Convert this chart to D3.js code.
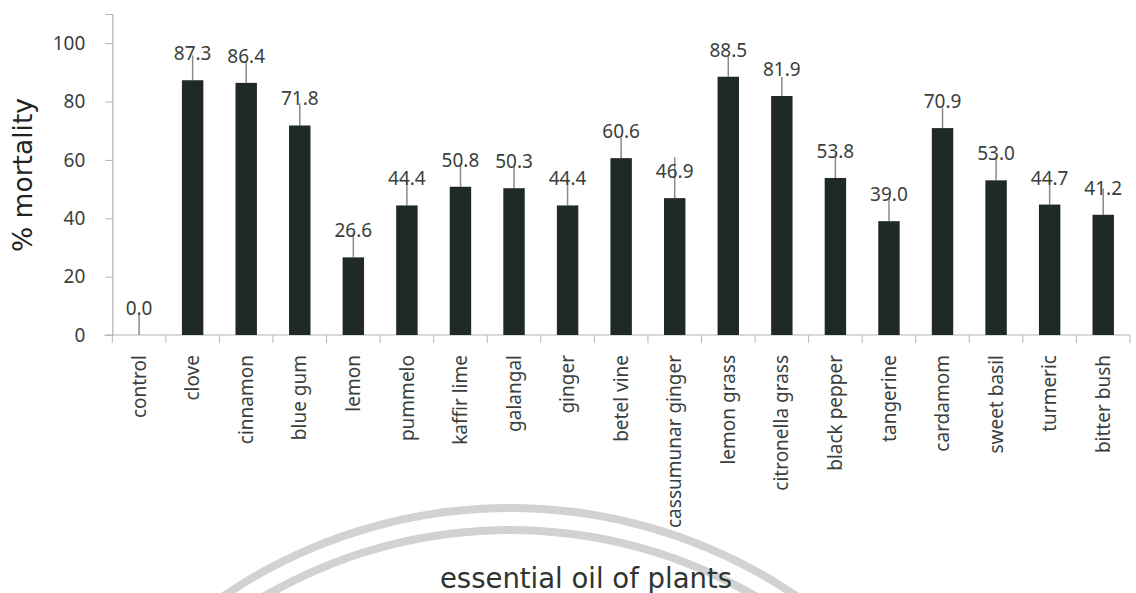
<!DOCTYPE html>
<html>
<head>
<meta charset="utf-8">
<script src="https://cdn.jsdelivr.net/npm/d3@7"></script>
<style>
  html, body { margin: 0; padding: 0; background: #ffffff; }
  svg { display: block; }
  text { font-family: "Noto Sans", "Open Sans", sans-serif; }
</style>
</head>
<body>
<svg id="chart" width="1136" height="593"></svg>
<script>
const categories = ["control","clove","cinnamon","blue gum","lemon","pummelo","kaffir lime","galangal","ginger","betel vine","cassumunar ginger","lemon grass","citronella grass","black pepper","tangerine","cardamom","sweet basil","turmeric","bitter bush"];
const mortality = [0.0,87.3,86.4,71.8,26.6,44.4,50.8,50.3,44.4,60.6,46.9,88.5,81.9,53.8,39.0,70.9,53.0,44.7,41.2];
const errorUp = [7,8.5,7,7.5,8.5,8,8,7.5,9,7,14,7,6.5,8.5,8,7,8,8.5,9];
const yTicks = [0,20,40,60,80,100];
const yTitle = "% mortality";
const xTitle = "essential oil of plants";

(function () {
const svg = d3.select("#chart");
const mLeft = 112.3, mRight = 1130, mTop = 14, mBottom = 335;

// faint watermark arcs (seal) at the bottom
const wm = svg.append("g");
const arcGen = d3.arc();
[[506, 514], [484, 492]].forEach(([ri, ro]) => {
  wm.append("path")
    .attr("transform", "translate(510,1018)")
    .attr("d", arcGen({innerRadius: ri, outerRadius: ro, startAngle: -Math.PI/3.2, endAngle: Math.PI/3.2}))
    .attr("fill", "#d2d2d2");
});

const x = d3.scaleBand().domain(categories).range([mLeft, mRight]).paddingInner(0.6).paddingOuter(0.3);
const y = d3.scaleLinear().domain([0, 110]).range([mBottom, mTop]);

const axisColor = "#b4b4b4";
const textColor = "#3a3f3d";

// y axis
const yAxis = svg.append("g").attr("transform", `translate(${mLeft},0)`)
  .call(d3.axisLeft(y).tickValues(yTicks).tickSize(7).tickPadding(20).tickFormat(d3.format("d")));
yAxis.select(".domain").attr("stroke", axisColor).attr("stroke-width", 1.2);
yAxis.selectAll(".tick line").attr("stroke", axisColor);
yAxis.selectAll(".tick text").attr("fill", textColor).attr("font-size", 19);

// x axis baseline and boundary ticks
const xAxisG = svg.append("g").attr("transform", `translate(0,${mBottom})`);
xAxisG.append("line").attr("x1", mLeft - 8).attr("x2", mRight).attr("y1", 0).attr("y2", 0)
  .attr("stroke", axisColor).attr("stroke-width", 1.2);
const boundaries = d3.range(categories.length + 1).map(i => x.range()[0] + i * x.step());
xAxisG.selectAll("line.bt").data(boundaries).join("line").attr("class", "bt")
  .attr("x1", d => d).attr("x2", d => d).attr("y1", 0).attr("y2", 8)
  .attr("stroke", axisColor).attr("stroke-width", 1);
xAxisG.selectAll("text.cat").data(categories).join("text").attr("class", "cat")
  .attr("transform", d => `translate(${x(d) + x.bandwidth()/2},20) rotate(-90)`)
  .attr("text-anchor", "end").attr("dy", "0.35em")
  .attr("fill", textColor).attr("font-size", 19)
  .text(d => d);

// error bars (upper only)
svg.append("g").selectAll("line").data(categories).join("line")
  .attr("x1", d => x(d) + x.bandwidth()/2).attr("x2", d => x(d) + x.bandwidth()/2)
  .attr("y1", (d, i) => y(mortality[i])).attr("y2", (d, i) => y(mortality[i] + errorUp[i]))
  .attr("stroke", "#8a8a8a").attr("stroke-width", 1.5);

// bars
svg.append("g").selectAll("rect").data(categories).join("rect")
  .attr("x", d => x(d)).attr("width", x.bandwidth())
  .attr("y", (d, i) => y(mortality[i])).attr("height", (d, i) => mBottom - y(mortality[i]))
  .attr("fill", "#1f2925");

// value labels
svg.append("g").selectAll("text").data(categories).join("text")
  .attr("x", d => x(d) + x.bandwidth()/2)
  .attr("y", (d, i) => y(mortality[i]) - 20)
  .attr("text-anchor", "middle").attr("fill", textColor).attr("font-size", 19)
  .text((d, i) => d3.format(".1f")(mortality[i]));

// axis titles
svg.append("text").attr("transform", "translate(32,175) rotate(-90)")
  .attr("text-anchor", "middle").attr("fill", "#1e2422")
  .style("font-family", "'DejaVu Sans'").attr("font-size", 26.5)
  .text(yTitle);
svg.append("text").attr("x", 586).attr("y", 588)
  .attr("text-anchor", "middle").attr("fill", "#2e3431")
  .style("font-family", "'DejaVu Sans'").attr("font-size", 27.5)
  .text(xTitle);
})();
</script>
</body>
</html>
